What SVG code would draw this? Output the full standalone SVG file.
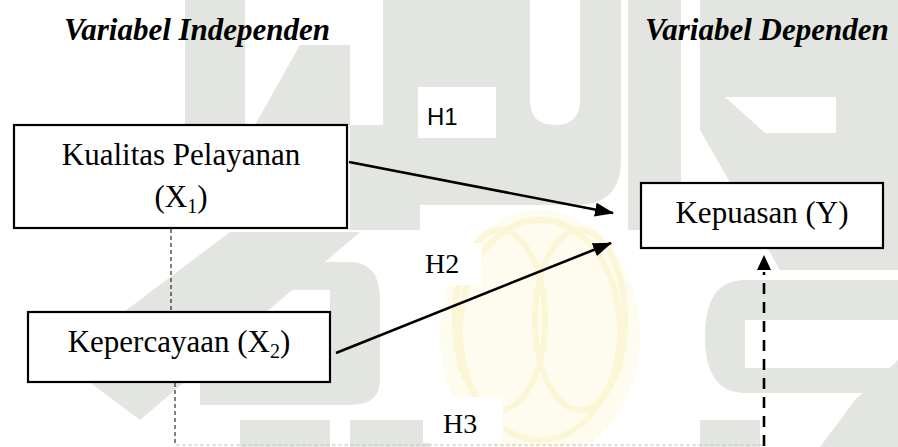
<svg xmlns="http://www.w3.org/2000/svg" width="898" height="447" viewBox="0 0 898 447">
  <style>
    .wm { fill: #e3e6e0; stroke: none; }
    .wy { fill: none; stroke: #fbf6d6; stroke-width: 6; }
    .wyf { fill: #fefcef; stroke: none; }
    .blank { fill: #ffffff; stroke: none; }
    .box { fill: #ffffff; stroke: #000000; stroke-width: 2.2; }
    .title { font-family: "Liberation Serif", "Times New Roman", serif; font-weight: bold; font-style: italic; font-size: 31px; fill: #000; }
    .lbl { font-family: "Liberation Serif", "Times New Roman", serif; font-size: 31px; fill: #000; }
    .sub { font-size: 20px; }
    .hs { font-family: "Liberation Sans", Arial, sans-serif; font-size: 24px; fill: #000; }
    .hr { font-family: "Liberation Serif", "Times New Roman", serif; font-size: 28px; fill: #000; }
    .arrow { stroke: #000; stroke-width: 2.6; fill: none; }
    .thin { stroke: #000; stroke-width: 1; stroke-dasharray: 4 3; fill: none; }
    .dash { stroke: #000; stroke-width: 2.6; stroke-dasharray: 11 8; fill: none; }
    .faint { stroke: #c4c4c4; stroke-width: 1; stroke-dasharray: 4 2; fill: none; }
  </style>
  <defs>
    <marker id="ah" markerWidth="19" markerHeight="14" refX="18" refY="7" orient="auto" markerUnits="userSpaceOnUse">
      <path d="M0,0 L19,7 L0,14 z" fill="#000"/>
    </marker>
  </defs>
  <rect width="898" height="447" fill="#ffffff"/>

  <g id="watermark">
    <rect class="wm" x="185" y="0" width="60" height="125"/>
    <polygon class="wm" points="300,45 350,45 350,125 255,125"/>
    <rect class="wm" x="350" y="125" width="70" height="105"/>
    <path class="wm" fill-rule="evenodd" d="M383,0 H621 V160 Q621,205 576,205 H428 Q383,205 383,160 Z M530,0 H580 V100 Q580,125 555,125 Q530,125 530,100 Z"/>
    <rect class="wm" x="628" y="0" width="53" height="230"/>
    <path class="wm" fill-rule="evenodd" d="M700,0 H898 V270 H780 L700,130 Z M725,97 H836 V133 H765 Z"/>
    <polygon class="wm" points="230,232 360,232 140,420 60,360"/>
    <path class="wm" fill-rule="evenodd" d="M200,262 H350 Q380,262 380,300 V380 Q380,405 350,405 H200 Z M260,290 H330 V375 H260 Z"/>
    <rect class="wm" x="240" y="420" width="90" height="27"/>
    <rect class="wm" x="350" y="420" width="80" height="27"/>
    <path class="wm" fill-rule="evenodd" d="M745,280 H898 V393 H745 Q705,393 705,336 Q705,280 745,280 Z M745,320 H898 V368 H745 Z"/>
    <rect class="wm" x="700" y="420" width="60" height="27"/>
    <polygon class="wm" points="855,400 898,360 898,447 820,447"/>
    <ellipse class="wyf" cx="540" cy="335" rx="100" ry="125"/>
    <ellipse class="wy" cx="500" cy="320" rx="45" ry="90"/>
    <ellipse class="wy" cx="580" cy="320" rx="45" ry="90"/>
    <ellipse class="wy" cx="540" cy="330" rx="80" ry="110"/>
  </g>

  <g id="label-backgrounds">
    <rect class="blank" x="418" y="87" width="78" height="51"/>
    <rect class="blank" x="413" y="243" width="69" height="42"/>
    <rect class="blank" x="423" y="397" width="80" height="46"/>
  </g>

  <g id="titles">
    <text class="title" x="64" y="40">Variabel Independen</text>
    <text class="title" x="645" y="40">Variabel Dependen</text>
  </g>

  <g id="connectors">
    <line class="thin" x1="171" y1="229" x2="171" y2="312"/>
    <line class="thin" x1="175" y1="383" x2="175" y2="446"/>
    <line class="faint" x1="176" y1="445" x2="764" y2="445"/>
    <line class="arrow" x1="349" y1="162" x2="613" y2="213" marker-end="url(#ah)"/>
    <line class="arrow" x1="336" y1="353" x2="611" y2="243" marker-end="url(#ah)"/>
    <line class="dash" x1="764" y1="446" x2="764" y2="272"/>
    <path d="M764,255 L771,270 L757,270 Z" fill="#000"/>
    <text class="hs" x="427" y="125">H1</text>
    <text class="hr" x="425" y="273">H2</text>
    <text class="hr" x="443" y="433">H3</text>
  </g>

  <g id="node-x1">
    <rect class="box" x="14" y="125" width="333" height="103"/>
    <text class="lbl" x="181" y="165" text-anchor="middle">Kualitas Pelayanan</text>
    <text class="lbl" x="181" y="207" text-anchor="middle">(X<tspan class="sub" dy="6">1</tspan><tspan dy="-6">)</tspan></text>
  </g>

  <g id="node-x2">
    <rect class="box" x="28" y="312" width="302" height="70"/>
    <text class="lbl" x="179" y="352" text-anchor="middle">Kepercayaan (X<tspan class="sub" dy="6">2</tspan><tspan dy="-6">)</tspan></text>
  </g>

  <g id="node-y">
    <rect class="box" x="641" y="183" width="242" height="65"/>
    <text class="lbl" x="762" y="223" text-anchor="middle">Kepuasan (Y)</text>
  </g>
</svg>
